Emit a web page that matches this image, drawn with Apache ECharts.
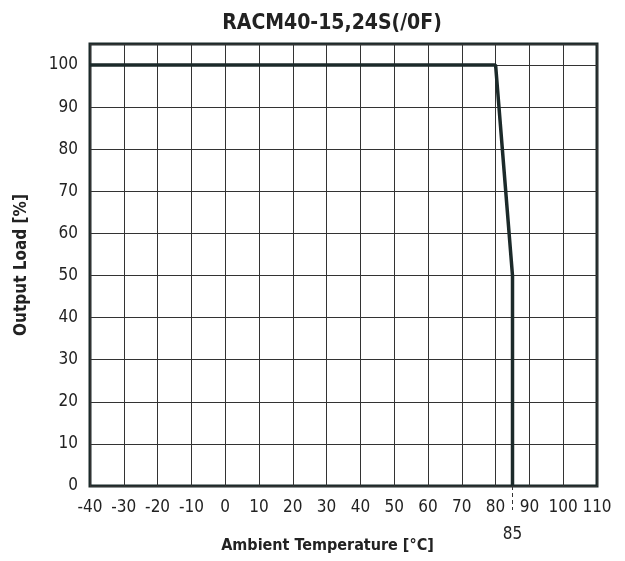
<!DOCTYPE html>
<html>
<head>
<meta charset="utf-8">
<script src="https://cdn.jsdelivr.net/npm/echarts@6/dist/echarts.min.js"></script>
<style>
    html, body { margin: 0; padding: 0; background: #fff; }
    #chart { width: 625px; height: 561px; }
</style>
</head>
<body>
<div id="chart"></div>
<script>
// derating curve
var tempData = [-40, 80, 85, 85];
var loadData = [100, 100, 50, 0];
var extraTicks = [85];

var font = "'DejaVu Sans Condensed', 'Liberation Sans Narrow', 'Liberation Sans', sans-serif";
var dark = '#1c2a2a';

var points = [];
for (var i = 0; i < tempData.length; i++) {
    points.push([tempData[i], loadData[i]]);
}

var myChart = echarts.init(document.getElementById('chart'));
var option = {
    backgroundColor: '#fff',
    animation: false,
    title: {
        text: 'RACM40-15,24S(/0F)',
        left: 327,
        textAlign: 'center',
        top: 8,
        textStyle: {
            fontFamily: font,
            fontSize: 21,
            fontWeight: 'bold',
            color: '#222'
        }
    },
    grid: {
        left: 90,
        right: 28,
        top: 44,
        bottom: 75,
        show: true,
        borderColor: dark,
        borderWidth: 3
    },
    xAxis: [
        {
            type: 'value',
            min: -40,
            max: 110,
            interval: 10,
            name: 'Ambient Temperature [°C]',
            nameLocation: 'middle',
            nameGap: 52,
            nameTextStyle: {
                fontFamily: font,
                fontSize: 16,
                fontWeight: 'bold',
                color: '#222',
                padding: [0, 32, 0, 0]
            },
            axisLine: { show: false },
            axisTick: { show: false },
            axisLabel: {
                margin: 13,
                fontFamily: font,
                fontSize: 17,
                color: '#222'
            },
            splitLine: {
                show: true,
                lineStyle: { color: '#333', width: 1 }
            }
        },
        {
            type: 'value',
            min: -40,
            max: 110,
            position: 'bottom',
            axisLine: { show: false },
            axisTick: {
                show: true,
                customValues: extraTicks,
                length: 24,
                lineStyle: { color: '#333', type: [4, 3], width: 1 }
            },
            axisLabel: {
                customValues: extraTicks,
                margin: 40,
                fontFamily: font,
                fontSize: 17,
                color: '#222'
            },
            splitLine: { show: false }
        }
    ],
    yAxis: {
        type: 'value',
        min: 0,
        max: 105,
        interval: 10,
        name: 'Output Load [%]',
        nameLocation: 'middle',
        nameGap: 60,
        nameTextStyle: {
            fontFamily: font,
            fontSize: 17,
            fontWeight: 'bold',
            color: '#222'
        },
        axisLine: { show: false },
        axisTick: { show: false },
        axisLabel: {
            margin: 12,
            fontFamily: font,
            fontSize: 17,
            color: '#222',
            showMaxLabel: false
        },
        splitLine: {
            show: true,
            lineStyle: { color: '#333', width: 1 }
        }
    },
    series: [
        {
            type: 'line',
            data: points,
            symbol: 'none',
            lineStyle: { color: dark, width: 3.5 }
        }
    ]
};
myChart.setOption(option);
</script>
</body>
</html>
